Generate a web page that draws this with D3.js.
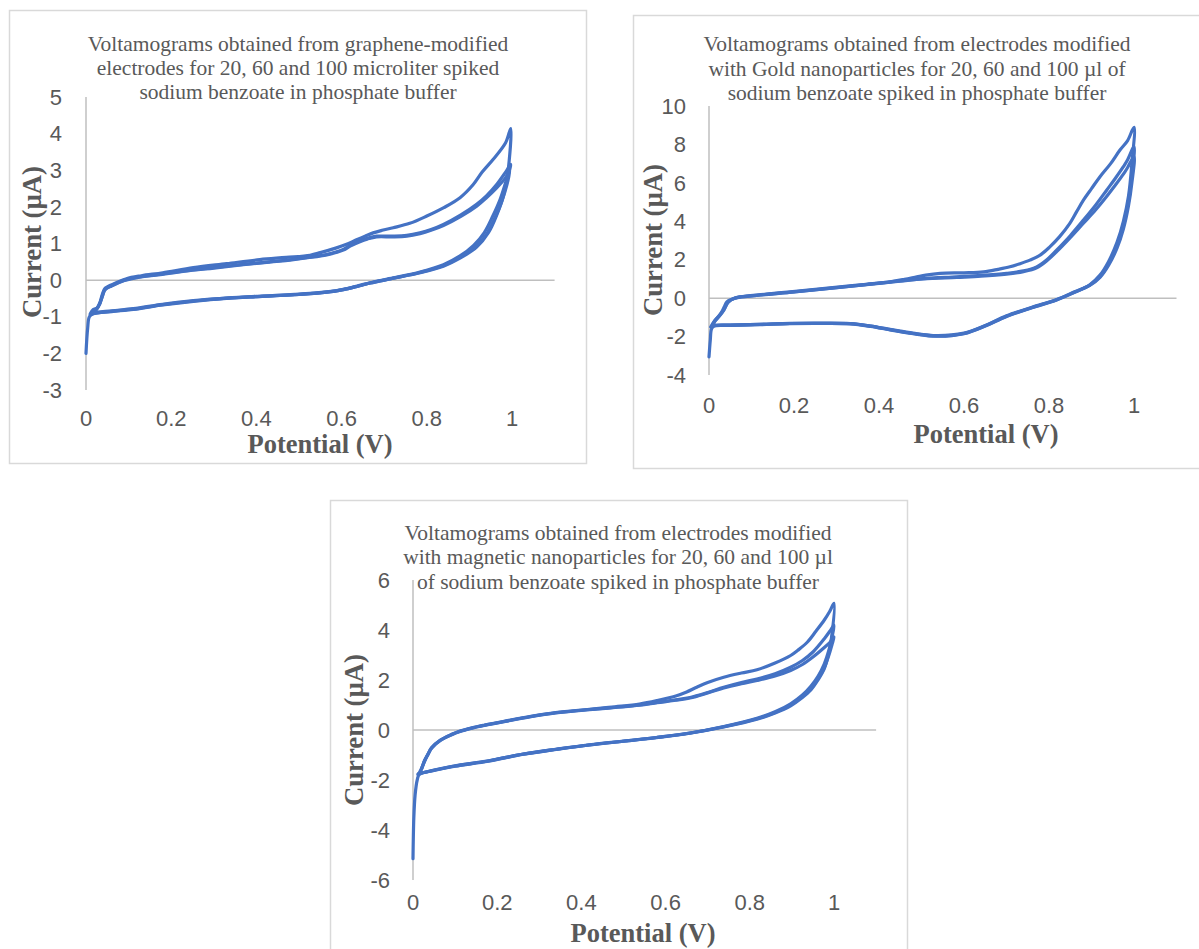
<!DOCTYPE html>
<html>
<head>
<meta charset="utf-8">
<script src="https://cdn.jsdelivr.net/npm/d3@7"></script>
<style>
  html, body { margin: 0; padding: 0; background: #ffffff; }
  svg { display: block; }
</style>
</head>
<body>
<svg id="chart" width="1199" height="949"></svg>
<script>
// ---------------- DATA ----------------
// Shared tick labels
const xTicks = [0, 0.2, 0.4, 0.6, 0.8, 1];
const yTicksGraphene = [-3, -2, -1, 0, 1, 2, 3, 4, 5];
const yTicksGold = [-4, -2, 0, 2, 4, 6, 8, 10];
const yTicksMagnetic = [-6, -4, -2, 0, 2, 4, 6];

const titleGraphene = ["Voltamograms obtained from graphene-modified",
  "electrodes for 20, 60 and 100 microliter spiked",
  "sodium benzoate in phosphate buffer"];
const titleGold = ["Voltamograms obtained from electrodes modified",
  "with Gold nanoparticles for 20, 60 and 100 µl of",
  "sodium benzoate spiked in phosphate buffer"];
const titleMagnetic = ["Voltamograms obtained from electrodes modified",
  "with magnetic nanoparticles for 20, 60 and 100 µl",
  "of sodium benzoate spiked in phosphate buffer"];

const xTitle = "Potential (V)";
const yTitle = "Current (µA)";

// Graphene-modified electrodes: [potential V, current µA]
const graphene20 = [[0,-2.0],[0.004,-1.3],[0.008,-1.0],[0.017,-0.92],[0.06,-0.86],[0.111,-0.8],[0.18,-0.68],[0.252,-0.58],[0.33,-0.5],[0.408,-0.45],[0.49,-0.4],[0.565,-0.33],[0.604,-0.26],[0.64,-0.16],[0.667,-0.08],[0.721,0.05],[0.784,0.2],[0.839,0.38],[0.878,0.6],[0.917,0.9],[0.945,1.3],[0.965,1.8],[0.98,2.3],[0.99,2.9],[0.997,4.14],
  [0.985,3.75],[0.956,3.3],[0.93,2.95],[0.909,2.61],[0.878,2.25],[0.84,1.98],[0.8,1.75],[0.76,1.55],[0.721,1.43],[0.695,1.36],[0.674,1.29],[0.655,1.2],[0.635,1.1],[0.61,0.97],[0.588,0.88],[0.55,0.75],[0.526,0.68],[0.47,0.62],[0.408,0.56],[0.33,0.45],[0.252,0.34],[0.18,0.2],[0.13,0.12],[0.095,0.04],[0.07,-0.08],[0.045,-0.22],[0.038,-0.4],[0.033,-0.6],[0.026,-0.76],[0.017,-0.8],[0.01,-0.92]];
const graphene60 = [[0.01,-0.95],[0.017,-0.9],[0.06,-0.84],[0.111,-0.78],[0.18,-0.66],[0.252,-0.56],[0.33,-0.49],[0.408,-0.44],[0.49,-0.39],[0.565,-0.32],[0.604,-0.25],[0.64,-0.15],[0.667,-0.07],[0.721,0.06],[0.784,0.22],[0.839,0.42],[0.878,0.66],[0.91,0.95],[0.935,1.3],[0.955,1.75],[0.972,2.2],[0.986,2.7],[0.997,3.16],
  [0.985,2.95],[0.964,2.61],[0.94,2.3],[0.917,2.07],[0.88,1.78],[0.839,1.52],[0.81,1.38],[0.784,1.29],[0.753,1.22],[0.72,1.2],[0.682,1.2],[0.66,1.14],[0.643,1.07],[0.62,0.95],[0.604,0.84],[0.565,0.7],[0.52,0.62],[0.487,0.57],[0.43,0.5],[0.369,0.43],[0.3,0.34],[0.25,0.28],[0.174,0.16],[0.12,0.08],[0.09,0.0],[0.06,-0.15],[0.045,-0.25],[0.038,-0.45],[0.032,-0.65],[0.025,-0.78],[0.015,-0.86]];
const graphene100 = [[0.012,-0.93],[0.02,-0.91],[0.06,-0.85],[0.111,-0.79],[0.18,-0.67],[0.252,-0.57],[0.33,-0.49],[0.408,-0.44],[0.49,-0.4],[0.565,-0.33],[0.604,-0.26],[0.64,-0.16],[0.667,-0.08],[0.721,0.05],[0.784,0.21],[0.839,0.4],[0.878,0.63],[0.915,0.92],[0.94,1.25],[0.96,1.7],[0.976,2.15],[0.988,2.6],[0.995,3.0],
  [0.985,2.8],[0.964,2.52],[0.94,2.25],[0.917,2.02],[0.88,1.74],[0.839,1.49],[0.81,1.36],[0.784,1.27],[0.753,1.2],[0.72,1.18],[0.682,1.18],[0.66,1.12],[0.643,1.05],[0.62,0.93],[0.604,0.82],[0.565,0.69],[0.52,0.61],[0.487,0.56],[0.43,0.49],[0.369,0.42],[0.3,0.33],[0.25,0.27],[0.174,0.15],[0.12,0.07],[0.09,-0.01],[0.06,-0.16],[0.045,-0.26],[0.038,-0.46],[0.032,-0.66],[0.025,-0.8],[0.015,-0.88]];

// Gold-nanoparticle electrodes
const gold20 = [[0,-3.06],[0.003,-2.2],[0.006,-1.6],[0.012,-1.45],[0.05,-1.42],[0.12,-1.38],[0.191,-1.33],[0.26,-1.32],[0.332,-1.34],[0.38,-1.47],[0.426,-1.65],[0.48,-1.85],[0.536,-1.98],[0.6,-1.85],[0.65,-1.45],[0.7,-0.95],[0.76,-0.5],[0.818,-0.1],[0.86,0.3],[0.896,0.7],[0.92,1.2],[0.94,1.9],[0.96,2.9],[0.975,4.0],[0.987,5.3],[0.995,7.0],[1.0,8.89],
  [0.985,8.2],[0.967,7.71],[0.945,7.0],[0.92,6.32],[0.9,5.7],[0.881,5.1],[0.865,4.5],[0.849,3.89],[0.825,3.2],[0.802,2.67],[0.78,2.25],[0.755,1.98],[0.73,1.78],[0.708,1.63],[0.68,1.5],[0.646,1.37],[0.6,1.32],[0.544,1.29],[0.51,1.2],[0.489,1.11],[0.46,0.98],[0.426,0.85],[0.37,0.72],[0.308,0.59],[0.25,0.46],[0.191,0.33],[0.13,0.2],[0.073,0.07],[0.055,-0.05],[0.042,-0.19],[0.036,-0.45],[0.03,-0.71],[0.022,-0.95],[0.014,-1.15],[0.008,-1.35],[0.004,-1.5]];
const gold60 = [[0.006,-1.5],[0.012,-1.43],[0.05,-1.4],[0.12,-1.36],[0.191,-1.31],[0.26,-1.3],[0.332,-1.32],[0.38,-1.45],[0.426,-1.62],[0.48,-1.82],[0.536,-1.95],[0.6,-1.82],[0.65,-1.42],[0.7,-0.92],[0.76,-0.47],[0.818,-0.07],[0.86,0.33],[0.896,0.68],[0.92,1.12],[0.94,1.78],[0.96,2.75],[0.975,3.8],[0.987,5.0],[0.995,6.4],[1.0,7.88],
  [0.985,7.2],[0.975,6.84],[0.955,6.2],[0.936,5.63],[0.91,4.85],[0.881,4.06],[0.85,3.25],[0.818,2.5],[0.795,2.0],[0.771,1.63],[0.74,1.42],[0.7,1.29],[0.64,1.18],[0.583,1.11],[0.504,1.02],[0.45,0.9],[0.4,0.78],[0.3,0.55],[0.2,0.33],[0.1,0.12],[0.06,0.0],[0.045,-0.2],[0.035,-0.6],[0.025,-0.9],[0.015,-1.15],[0.008,-1.4]];
const gold100 = [[0.006,-1.48],[0.012,-1.42],[0.05,-1.4],[0.12,-1.37],[0.191,-1.32],[0.26,-1.31],[0.332,-1.33],[0.38,-1.46],[0.426,-1.64],[0.48,-1.84],[0.536,-1.97],[0.6,-1.84],[0.65,-1.44],[0.7,-0.94],[0.76,-0.49],[0.818,-0.08],[0.86,0.31],[0.896,0.66],[0.92,1.08],[0.94,1.7],[0.96,2.6],[0.975,3.6],[0.987,4.8],[0.995,6.0],[1.0,7.36],
  [0.985,6.8],[0.975,6.45],[0.955,5.85],[0.936,5.3],[0.91,4.6],[0.881,3.9],[0.85,3.15],[0.818,2.42],[0.795,1.95],[0.771,1.58],[0.74,1.38],[0.7,1.25],[0.64,1.14],[0.583,1.08],[0.504,1.0],[0.45,0.88],[0.4,0.77],[0.3,0.54],[0.2,0.32],[0.1,0.11],[0.06,-0.01],[0.045,-0.22],[0.035,-0.62],[0.025,-0.92],[0.015,-1.17],[0.008,-1.42]];

// Magnetic-nanoparticle electrodes
const magnetic20 = [[0,-5.15],[0.002,-3.5],[0.005,-2.6],[0.01,-2.0],[0.015,-1.78],[0.05,-1.62],[0.1,-1.45],[0.179,-1.25],[0.259,-0.98],[0.34,-0.78],[0.419,-0.6],[0.5,-0.45],[0.578,-0.31],[0.658,-0.13],[0.738,0.12],[0.817,0.43],[0.86,0.68],[0.897,0.97],[0.925,1.3],[0.945,1.6],[0.962,2.0],[0.977,2.45],[0.988,3.1],[0.995,3.8],[1.0,5.07],
  [0.99,4.75],[0.977,4.4],[0.957,3.95],[0.937,3.52],[0.915,3.2],[0.897,2.98],[0.86,2.68],[0.817,2.41],[0.78,2.28],[0.738,2.11],[0.7,1.9],[0.674,1.71],[0.65,1.52],[0.626,1.37],[0.58,1.18],[0.538,1.04],[0.48,0.93],[0.419,0.83],[0.339,0.7],[0.28,0.55],[0.219,0.36],[0.17,0.2],[0.14,0.09],[0.11,-0.05],[0.092,-0.17],[0.065,-0.4],[0.044,-0.71],[0.036,-0.95],[0.028,-1.2],[0.02,-1.55],[0.012,-1.79]];
const magnetic60 = [[0.012,-1.76],[0.05,-1.6],[0.1,-1.43],[0.179,-1.23],[0.259,-0.97],[0.34,-0.77],[0.419,-0.59],[0.5,-0.44],[0.578,-0.3],[0.658,-0.12],[0.738,0.14],[0.817,0.47],[0.86,0.73],[0.897,1.05],[0.925,1.4],[0.945,1.75],[0.962,2.15],[0.977,2.65],[0.988,3.2],[0.995,3.7],[1.0,4.19],
  [0.99,3.95],[0.977,3.65],[0.95,3.12],[0.925,2.78],[0.897,2.51],[0.86,2.25],[0.817,2.04],[0.78,1.9],[0.738,1.71],[0.7,1.5],[0.658,1.3],[0.62,1.2],[0.58,1.1],[0.538,1.0],[0.48,0.91],[0.419,0.82],[0.339,0.69],[0.28,0.54],[0.219,0.35],[0.17,0.19],[0.14,0.08],[0.11,-0.06],[0.092,-0.18],[0.065,-0.41],[0.044,-0.72],[0.036,-0.96],[0.028,-1.22],[0.02,-1.57]];
const magnetic100 = [[0.014,-1.74],[0.05,-1.61],[0.1,-1.44],[0.179,-1.24],[0.259,-0.97],[0.34,-0.77],[0.419,-0.6],[0.5,-0.45],[0.578,-0.3],[0.658,-0.12],[0.738,0.13],[0.817,0.45],[0.86,0.7],[0.897,1.0],[0.925,1.35],[0.945,1.68],[0.962,2.05],[0.977,2.5],[0.988,3.0],[0.995,3.4],[1.0,3.72],
  [0.99,3.5],[0.977,3.3],[0.95,2.92],[0.925,2.62],[0.897,2.38],[0.86,2.16],[0.817,1.98],[0.78,1.85],[0.738,1.68],[0.7,1.48],[0.658,1.28],[0.62,1.18],[0.58,1.09],[0.538,0.99],[0.48,0.9],[0.419,0.81],[0.339,0.68],[0.28,0.53],[0.219,0.34],[0.17,0.18],[0.14,0.07],[0.11,-0.07],[0.092,-0.19],[0.065,-0.42],[0.044,-0.73],[0.036,-0.97],[0.028,-1.23],[0.02,-1.58]];

// ---------------- DRAWING ----------------
const svg = d3.select("#chart");
const GRAY = "#595959";
const AXIS = "#bfbfbf";
const BLUE = "#4472C4";

const charts = [
  { frame: [9, 10, 577, 453], xr: [86, 512], yr: [390, 97], yDom: [-3, 5], yTicks: yTicksGraphene,
    title: titleGraphene, titleX: 298, titleY: [51, 75, 99], xLabY: 426, yLabX: 62,
    xTitleX: 320, xTitleY: 453, yTitleX: 31, yTitleY: 242,
    series: [graphene20, graphene60, graphene100] },
  { frame: [633, 15, 600, 453], xr: [709, 1134], yr: [375, 106], yDom: [-4, 10], yTicks: yTicksGold,
    title: titleGold, titleX: 917, titleY: [51, 76, 100], xLabY: 413, yLabX: 686,
    xTitleX: 986, xTitleY: 443, yTitleX: 652, yTitleY: 240,
    series: [gold20, gold60, gold100] },
  { frame: [330, 500, 577, 500], xr: [413, 834], yr: [880, 580], yDom: [-6, 6], yTicks: yTicksMagnetic,
    title: titleMagnetic, titleX: 618, titleY: [540, 564, 589], xLabY: 910, yLabX: 390,
    xTitleX: 643, xTitleY: 942, yTitleX: 353, yTitleY: 730,
    series: [magnetic20, magnetic60, magnetic100] }
];

charts.forEach(c => {
  const g = svg.append("g");
  // chart frame
  g.append("rect")
    .attr("x", c.frame[0] + 0.5).attr("y", c.frame[1] + 0.5)
    .attr("width", c.frame[2]).attr("height", c.frame[3])
    .attr("fill", "#fff").attr("stroke", "#d9d9d9").attr("stroke-width", 1.5);

  const x = d3.scaleLinear().domain([0, 1]).range(c.xr);
  const xEnd = x(1.1);
  const y = d3.scaleLinear().domain(c.yDom).range(c.yr);

  // vertical axis line
  g.append("line").attr("x1", x(0)).attr("x2", x(0))
    .attr("y1", y(c.yDom[0])).attr("y2", y(c.yDom[1]))
    .attr("stroke", AXIS).attr("stroke-width", 1.5);
  // horizontal axis at zero
  g.append("line").attr("x1", x(0)).attr("x2", xEnd)
    .attr("y1", y(0)).attr("y2", y(0))
    .attr("stroke", AXIS).attr("stroke-width", 1.5);

  // y tick labels
  g.selectAll(".yl").data(c.yTicks).enter().append("text")
    .attr("x", c.yLabX).attr("y", d => y(d))
    .attr("dy", "0.35em").attr("text-anchor", "end")
    .attr("font-family", "Liberation Sans, Arial, sans-serif").attr("font-size", 22)
    .attr("fill", GRAY).text(d => d);
  // x tick labels
  g.selectAll(".xl").data(xTicks).enter().append("text")
    .attr("x", d => x(d)).attr("y", c.xLabY)
    .attr("text-anchor", "middle")
    .attr("font-family", "Liberation Sans, Arial, sans-serif").attr("font-size", 22)
    .attr("fill", GRAY).text(d => d);

  // title
  g.selectAll(".tl").data(c.title).enter().append("text")
    .attr("x", c.titleX).attr("y", (d, i) => c.titleY[i])
    .attr("text-anchor", "middle")
    .attr("font-family", "Liberation Serif, Times New Roman, serif").attr("font-size", 21.5)
    .attr("fill", GRAY).text(d => d);

  // axis titles
  g.append("text").attr("x", c.xTitleX).attr("y", c.xTitleY)
    .attr("text-anchor", "middle")
    .attr("font-family", "Liberation Serif, Times New Roman, serif").attr("font-weight", "bold")
    .attr("font-size", 27).attr("textLength", 145).attr("lengthAdjust", "spacingAndGlyphs")
    .attr("fill", GRAY).text(xTitle);
  g.append("text")
    .attr("transform", `translate(${c.yTitleX},${c.yTitleY}) rotate(-90)`)
    .attr("text-anchor", "middle").attr("dy", "0.35em")
    .attr("font-family", "Liberation Serif, Times New Roman, serif").attr("font-weight", "bold")
    .attr("font-size", 28).attr("textLength", 152).attr("lengthAdjust", "spacingAndGlyphs")
    .attr("fill", GRAY).text(yTitle);

  // curves
  const line = d3.line().x(d => x(d[0])).y(d => y(d[1])).curve(d3.curveCatmullRom.alpha(0.5));
  g.selectAll(".cv").data(c.series).enter().append("path")
    .attr("d", line)
    .attr("fill", "none").attr("stroke", BLUE).attr("stroke-width", 3.2)
    .attr("stroke-linejoin", "round").attr("stroke-linecap", "round");
});
</script>
</body>
</html>
